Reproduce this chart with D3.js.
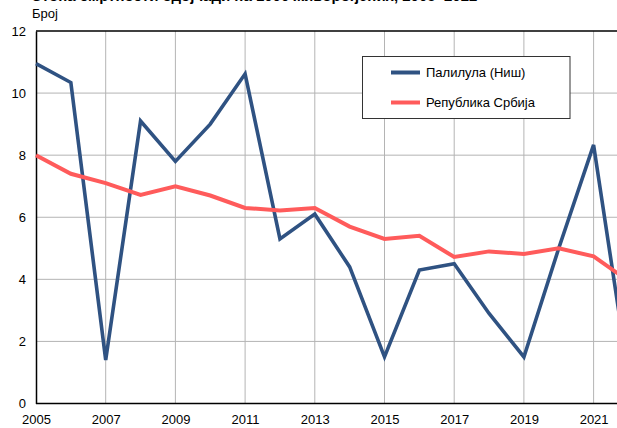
<!DOCTYPE html>
<html>
<head>
<meta charset="utf-8">
<script src="https://cdn.jsdelivr.net/npm/d3@7"></script>
<style>
  html, body { margin: 0; padding: 0; background: #fff; overflow: hidden; }
  svg { display: block; font-family: "Liberation Sans", Arial, sans-serif; }
</style>
</head>
<body>
<svg id="chart" width="617" height="428"></svg>
<script>
// Infant mortality rate per 1000 live births
const years = [2005, 2006, 2007, 2008, 2009, 2010, 2011, 2012, 2013, 2014, 2015, 2016, 2017, 2018, 2019, 2020, 2021, 2022];
const palilula = [10.95, 10.34, 1.4, 9.1, 7.8, 9.0, 10.62, 5.3, 6.1, 4.4, 1.5, 4.3, 4.5, 2.9, 1.5, 5.0, 8.33, 0.9];
const serbia = [8.0, 7.4, 7.1, 6.72, 7.0, 6.7, 6.3, 6.22, 6.3, 5.7, 5.3, 5.4, 4.72, 4.9, 4.82, 5.0, 4.74, 3.95];
const seriesNames = ["Палилула (Ниш)", "Република Србија"];
const seriesColors = ["#2f5282", "#ff5b5b"];
const xTicks = [2005, 2007, 2009, 2011, 2013, 2015, 2017, 2019, 2021];
const yTicks = [0, 2, 4, 6, 8, 10, 12];
const titleText = "Стопа смртности одојчади на 1000 живорођених, 2005–2022";
const yLabel = "Број";

const svg = d3.select("#chart");
const plotLeft = 36, plotTop = 31, plotBottom = 403.5;

const x = d3.scaleLinear().domain([2005, 2022]).range([plotLeft, plotLeft + 17 * 34.85]);
const y = d3.scaleLinear().domain([0, 12]).range([plotBottom, plotTop]);

// title, sitting at the very top edge of the page
svg.append("text")
  .attr("x", 31).attr("y", 0.5)
  .attr("font-size", 15).attr("font-weight", "bold").attr("fill", "#000")
  .text(titleText);

svg.append("text")
  .attr("x", 32).attr("y", 18)
  .attr("font-size", 13).attr("fill", "#000")
  .text(yLabel);

// grid
const grid = svg.append("g");
grid.selectAll("line.v").data(xTicks.slice(1)).join("line")
  .attr("class", "v")
  .attr("x1", d => x(d)).attr("x2", d => x(d))
  .attr("y1", plotTop).attr("y2", plotBottom)
  .attr("stroke", "#b4b4b4").attr("stroke-width", 1);
grid.selectAll("line.h").data(yTicks.slice(1, -1)).join("line")
  .attr("class", "h")
  .attr("x1", plotLeft).attr("x2", 640)
  .attr("y1", d => y(d)).attr("y2", d => y(d))
  .attr("stroke", "#b4b4b4").attr("stroke-width", 1);

// y axis
const yAxis = svg.append("g")
  .attr("transform", `translate(${plotLeft},0)`)
  .call(d3.axisLeft(y).tickValues(yTicks).tickSize(0).tickPadding(10));
yAxis.select(".domain").attr("stroke", "#000").attr("stroke-width", 1.5);
yAxis.selectAll("text").attr("font-size", 13).attr("fill", "#000")
  .attr("font-family", "Liberation Sans, Arial, sans-serif");

// x axis
const xAxis = svg.append("g")
  .attr("transform", `translate(0,${plotBottom})`)
  .call(d3.axisBottom(x).tickValues(xTicks).tickFormat(d3.format("d")).tickSize(0).tickPadding(11));
xAxis.select(".domain").remove();
xAxis.selectAll("text").attr("font-size", 13).attr("fill", "#000")
  .attr("font-family", "Liberation Sans, Arial, sans-serif");

// plot frame: top and bottom edges
svg.append("line").attr("x1", plotLeft).attr("x2", 640).attr("y1", plotTop).attr("y2", plotTop)
  .attr("stroke", "#000").attr("stroke-width", 1.5);
svg.append("line").attr("x1", plotLeft).attr("x2", 640).attr("y1", plotBottom).attr("y2", plotBottom)
  .attr("stroke", "#000").attr("stroke-width", 1.5);

// lines
const line = d3.line().x((d, i) => x(years[i])).y(d => y(d));
[palilula, serbia].forEach((vals, k) => {
  svg.append("path")
    .datum(vals)
    .attr("d", line)
    .attr("fill", "none")
    .attr("stroke", seriesColors[k])
    .attr("stroke-width", k === 0 ? 3.6 : 4)
    .attr("stroke-linejoin", "miter")
    .attr("stroke-linecap", "butt");
});

// legend
const lg = svg.append("g");
lg.append("rect")
  .attr("x", 362.5).attr("y", 56.5).attr("width", 207.5).attr("height", 62)
  .attr("fill", "#fff").attr("stroke", "#333").attr("stroke-width", 1);
seriesNames.forEach((name, i) => {
  const yy = 72.5 + i * 30;
  lg.append("line")
    .attr("x1", 391).attr("x2", 420).attr("y1", yy).attr("y2", yy)
    .attr("stroke", seriesColors[i]).attr("stroke-width", 4);
  lg.append("text")
    .attr("x", 426).attr("y", yy).attr("dy", "0.35em")
    .attr("font-size", 13).attr("fill", "#000")
    .text(name);
});
</script>
</body>
</html>
